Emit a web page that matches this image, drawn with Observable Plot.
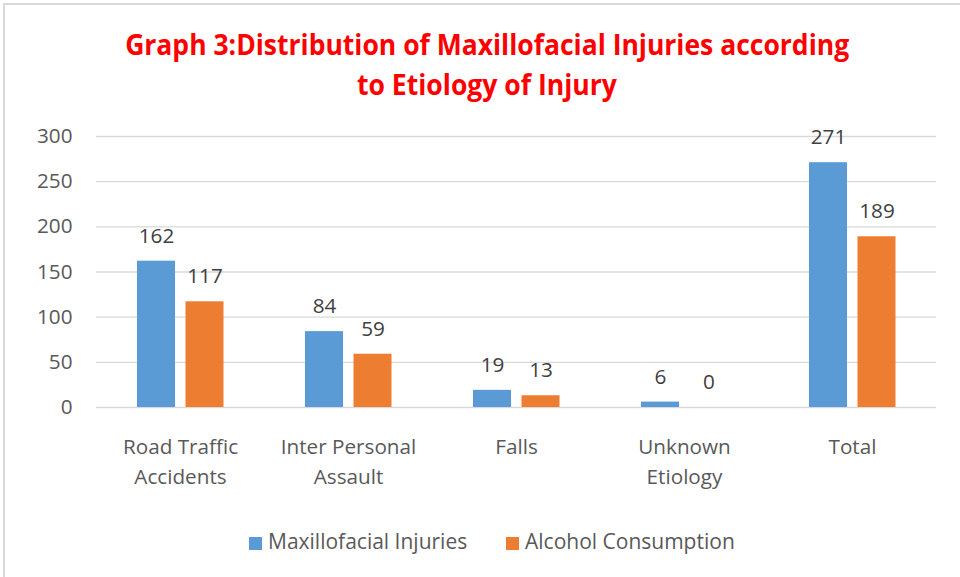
<!DOCTYPE html>
<html>
<head>
<meta charset="utf-8">
<script src="https://cdn.jsdelivr.net/npm/d3@7"></script>
<script src="https://cdn.jsdelivr.net/npm/@observablehq/plot@0.6"></script>
<style>
  html, body { margin: 0; padding: 0; background: #fff; }
  #wrap { position: relative; width: 960px; height: 577px; overflow: hidden; font-family: "Open Sans", sans-serif; background: #fff; }
  #border { position: absolute; left: 3px; top: 3px; width: 1000px; height: 1000px; border-left: 2px solid #d9d9d9; border-top: 2px solid #d9d9d9; box-sizing: border-box; }
  #title { position: absolute; left: 7px; width: 960px; top: 24px; text-align: center; color: #ff0000; font-weight: 700; font-size: 29px; line-height: 40px; font-family: "Open Sans", sans-serif; }
  #title span { display: inline-block; white-space: nowrap; }
  #chart { position: absolute; left: 0; top: 110px; }
  #legend { position: absolute; top: 528px; left: 0; width: 960px; font-size: 21px; color: #595959; line-height: 26px; }
  .item { position: absolute; top: 0; white-space: nowrap; }
  .sw { display: inline-block; width: 13px; height: 13px; margin-right: 6px; vertical-align: -1px; }
</style>
</head>
<body>
<div id="wrap">
  <div id="border"></div>
  <div id="title"></div>
  <div id="chart"></div>
  <div id="legend"></div>
</div>
<script>
const titleLines = ["Graph 3:Distribution of Maxillofacial Injuries according", "to Etiology of Injury"];
const titleWidths = [724, 260];
const categories = ["Road Traffic Accidents", "Inter Personal Assault", "Falls", "Unknown Etiology", "Total"];
const categoryLabels = ["Road Traffic\nAccidents", "Inter Personal\nAssault", "Falls", "Unknown\nEtiology", "Total"];
const seriesNames = ["Maxillofacial Injuries", "Alcohol Consumption"];
const seriesColors = ["#5B9BD5", "#ED7D31"];
const maxillofacial = [162, 84, 19, 6, 271];
const alcohol = [117, 59, 13, 0, 189];
const yTicks = [0, 50, 100, 150, 200, 250, 300];

// title
const titleEl = document.getElementById("title");
titleLines.forEach((t, i) => {
  const line = document.createElement("div");
  const s = document.createElement("span");
  s.textContent = t;
  line.appendChild(s);
  titleEl.appendChild(line);
  const w = s.getBoundingClientRect().width;
  s.style.transform = `scaleX(${titleWidths[i] / w})`;
});

const data = [];
categories.forEach((c, i) => {
  data.push({cat: c, series: seriesNames[0], value: maxillofacial[i]});
  data.push({cat: c, series: seriesNames[1], value: alcohol[i]});
});
const blue = data.filter(d => d.series === seriesNames[0]);
const orange = data.filter(d => d.series === seriesNames[1]);
const labelOf = new Map(categories.map((c, i) => [c, categoryLabels[i]]));

const fs = 20.7;
const plot = Plot.plot({
  width: 960,
  height: 387,
  marginLeft: 96,
  marginRight: 24,
  marginTop: 26,
  marginBottom: 90,
  style: {fontFamily: "'Open Sans', sans-serif", fontSize: fs + "px", color: "#595959", background: "transparent"},
  x: {domain: categories, padding: 0},
  y: {domain: [0, 300]},
  marks: [
    Plot.ruleY(yTicks, {stroke: "#d9d9d9", strokeWidth: 1.3}),
    Plot.axisY({ticks: yTicks, tickSize: 0, tickPadding: 24, label: null, fill: "#595959", fontSize: fs}),
    Plot.axisX({tickSize: 0, tickPadding: 25, label: null, tickFormat: d => labelOf.get(d), fill: "#595959", fontSize: fs, lineHeight: 1.45}),
    Plot.barY(blue, {x: "cat", y: "value", fill: seriesColors[0], insetLeft: 41, insetRight: 89}),
    Plot.barY(orange, {x: "cat", y: "value", fill: seriesColors[1], insetLeft: 89.5, insetRight: 40.5}),
    Plot.text(blue, {x: "cat", y: "value", text: d => String(d.value), dx: -24, dy: -25, fill: "#404040", fontSize: fs}),
    Plot.text(orange, {x: "cat", y: "value", text: d => String(d.value), dx: 24.5, dy: -25, fill: "#404040", fontSize: fs})
  ]
});
document.getElementById("chart").appendChild(plot);

// legend
const legend = document.getElementById("legend");
const legendX = [249, 506];
seriesNames.forEach((n, i) => {
  const it = document.createElement("div");
  it.className = "item";
  it.style.left = legendX[i] + "px";
  const sw = document.createElement("span");
  sw.className = "sw";
  sw.style.background = seriesColors[i];
  it.appendChild(sw);
  it.appendChild(document.createTextNode(n));
  legend.appendChild(it);
});
</script>
</body>
</html>
